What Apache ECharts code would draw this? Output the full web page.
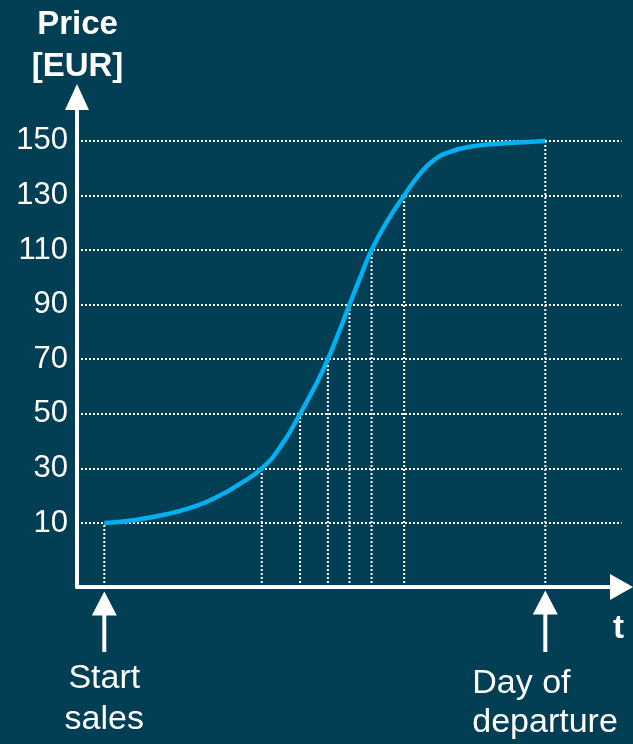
<!DOCTYPE html>
<html><head><meta charset="utf-8">
<script src="https://cdn.jsdelivr.net/npm/echarts@6/dist/echarts.min.js"></script>
<style>html,body{margin:0;padding:0;background:#023e54;}#c{width:633px;height:744px;}</style>
</head><body><div id="c"></div>
<script>
// Curve: time (0 = start of sales, 100 = day of departure) vs price in EUR
const tDays = [0, 6.6, 14.1, 20.2, 25.5, 30.8, 35.7, 39.8, 44.4, 48.2, 50.7, 53.4, 55.6, 58.0, 60.6, 64.0, 68.0, 71.3, 74.6, 78.4, 83.7, 89.7, 95.0, 100];
const price = [10, 11.0, 13.2, 15.9, 19.5, 24.4, 30, 37.6, 50, 61.4, 70, 80.8, 90, 99.8, 110, 120.2, 130, 137.4, 142.8, 146, 148.1, 149.0, 149.5, 150];
// Drop lines from the curve to the time axis
const dropT = [0, 35.7, 44.4, 50.7, 55.6, 60.6, 68.0, 100];
const dropV = [10, 30, 50, 70, 90, 110, 130, 150];
// Price tick labels
const priceTicks = [10, 30, 50, 70, 90, 110, 130, 150];
// Axis extents
const tMin = -6.19, tMax = 117.28;
const pMin = -13.46, pMax = 166.1;
const startLabel = 'Start\nsales';
const endLabel = 'Day of\ndeparture';

const FONT = '"Liberation Sans", Arial, sans-serif';
const chart = echarts.init(document.getElementById('c'), null, {renderer: 'canvas'});

const dotted = {color: '#ffffff', width: 2, type: [2, 2]};
const series = [];
dropT.forEach((t, i) => {
  series.push({
    type: 'line', data: [[t, pMin], [t, dropV[i]]], symbol: 'none', silent: true,
    lineStyle: dotted, z: 1, animation: false
  });
});
series.push({
  type: 'line', data: tDays.map((t, i) => [t, price[i]]), symbol: 'none',
  smooth: 0.5,
  lineStyle: {color: '#00b0f0', width: 4.5}, z: 5, animation: false
});

chart.setOption({
  backgroundColor: '#023e54',
  animation: false,
  grid: {left: 77, right: 11.5, top: 97, bottom: 157},
  xAxis: {
    type: 'value', min: tMin, max: tMax,
    axisLine: {show: true, onZero: false, lineStyle: {color: '#fff', width: 4}, symbol: ['none', 'triangle'], symbolSize: [26, 23]},
    axisTick: {show: false}, axisLabel: {show: false}, splitLine: {show: false}
  },
  yAxis: {
    type: 'value', min: pMin, max: pMax,
    axisLine: {show: true, onZero: false, lineStyle: {color: '#fff', width: 4}, symbol: ['none', 'triangle'], symbolSize: [24, 26]},
    axisTick: {show: false, customValues: priceTicks},
    axisLabel: {customValues: priceTicks, color: '#fff', fontSize: 31, fontFamily: FONT, margin: 9},
    splitLine: {show: true, lineStyle: dotted}
  },
  series: series
});

function arrowAt(x, yTip) {
  return [
    {type: 'polygon', shape: {points: [[x, yTip], [x + 12.5, yTip + 24], [x - 12.5, yTip + 24]]}, style: {fill: '#fff'}, silent: true},
    {type: 'rect', shape: {x: x - 2, y: yTip + 20, width: 4, height: 652 - yTip - 20}, style: {fill: '#fff'}, silent: true}
  ];
}
const ps = chart.convertToPixel({gridIndex: 0}, [tDays[0], pMin]);
const pe = chart.convertToPixel({gridIndex: 0}, [tDays[tDays.length - 1], pMin]);
const pTop = chart.convertToPixel({gridIndex: 0}, [tMin, pMax]);
const pEnd = chart.convertToPixel({gridIndex: 0}, [tMax, pMin]);
const els = [];
els.push(...arrowAt(ps[0], ps[1] + 4.5));
els.push(...arrowAt(pe[0], pe[1] + 3.5));
els.push({type: 'text', silent: true, style: {text: startLabel, x: ps[0], y: 658, align: 'center', verticalAlign: 'top', fill: '#fff', font: '34px ' + FONT, lineHeight: 41}});
els.push({type: 'text', silent: true, style: {text: endLabel, x: pe[0] - 73, y: 664, align: 'left', verticalAlign: 'top', fill: '#fff', font: '34px ' + FONT, lineHeight: 39}});
els.push({type: 'text', silent: true, style: {text: 'Price\n[EUR]', x: pTop[0] + 0.5, y: 4, align: 'center', verticalAlign: 'top', fill: '#fff', font: 'bold 33px ' + FONT, lineHeight: 42}});
els.push({type: 'text', silent: true, style: {text: 't', x: pEnd[0] - 3, y: 612, align: 'center', verticalAlign: 'top', fill: '#fff', font: 'bold 33px ' + FONT, lineHeight: 33}});
chart.setOption({graphic: els});
</script>
</body></html>
